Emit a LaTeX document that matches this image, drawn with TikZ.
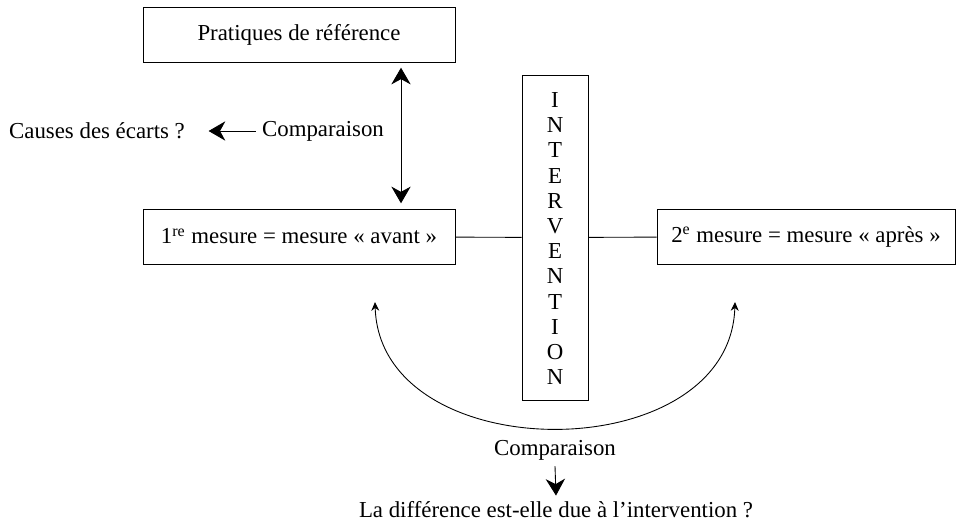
\documentclass[tikz,border=0pt]{standalone}
\usepackage{fontspec}
\setmainfont{Liberation Serif}
\usetikzlibrary{arrows.meta}

\begin{document}
\begin{tikzpicture}[x=0.02cm, y=-0.02cm,
		every node/.style={font=\fontsize{13}{15}\selectfont},
		boite/.style={draw, line width=0.5pt, minimum width=6.24cm, minimum height=1.1cm},
		fleche/.style={line width=0.5pt, -{Stealth[length=9.5pt, width=11pt, inset=3pt]}},
		doublefleche/.style={line width=0.5pt, {Stealth[length=9.5pt, width=11pt, inset=3pt]}-{Stealth[length=9.5pt, width=11pt, inset=3pt]}},
		petitefleche/.style={line width=0.5pt, {Stealth[length=5pt, width=4.5pt]}-{Stealth[length=5pt, width=4.5pt]}}]
		\useasboundingbox (0, 0) rectangle (956, 521);
		\node [boite] (ref) at (299, 34.5) {Pratiques de référence};
		\node [boite] (avant) at (299, 236.5) {1\textsuperscript{re} mesure = mesure «~avant~»};
		\node [boite, minimum width=5.96cm] (apres) at (806, 236.5) {2\textsuperscript{e} mesure = mesure «~après~»};
		\node [draw, line width=0.5pt, minimum width=1.32cm, minimum height=6.5cm] (interv) at (555, 237.5) {};
		\foreach \lettre [count=\i from 0] in {I,N,T,E,R,V,E,N,T,I,O,N}
			\node (l\i) at (555, 100 + \i*25.2) {\lettre};
		\draw [line width=0.5pt] (avant) -- (interv);
		\draw [line width=0.5pt] (interv) -- (apres);
		% comparaison avec la reference
		\coordinate (axe) at (401, 0);
		\draw [doublefleche] ([yshift=-3pt]ref.south -| axe) -- ([yshift=3pt]avant.north -| axe);
		\node (comp1) at (323, 131) {Comparaison};
		\node (causes) at (97, 131) {Causes des écarts ?};
		\draw [fleche, shorten >=10pt] (comp1.west) -- (causes.east);
		% comparaison avant / apres
		\coordinate (g) at (375, 302);
		\coordinate (d) at (735, 302);
		\draw [petitefleche] (g) .. controls (380, 470) and (730, 470) .. (d);
		\node (comp2) at (555, 450) {Comparaison};
		\node (diff) at (556, 510) {La différence est-elle due à l’intervention ?};
		\draw [fleche] (comp2.south) -- (diff.north);
	\end{tikzpicture}
\end{document}
